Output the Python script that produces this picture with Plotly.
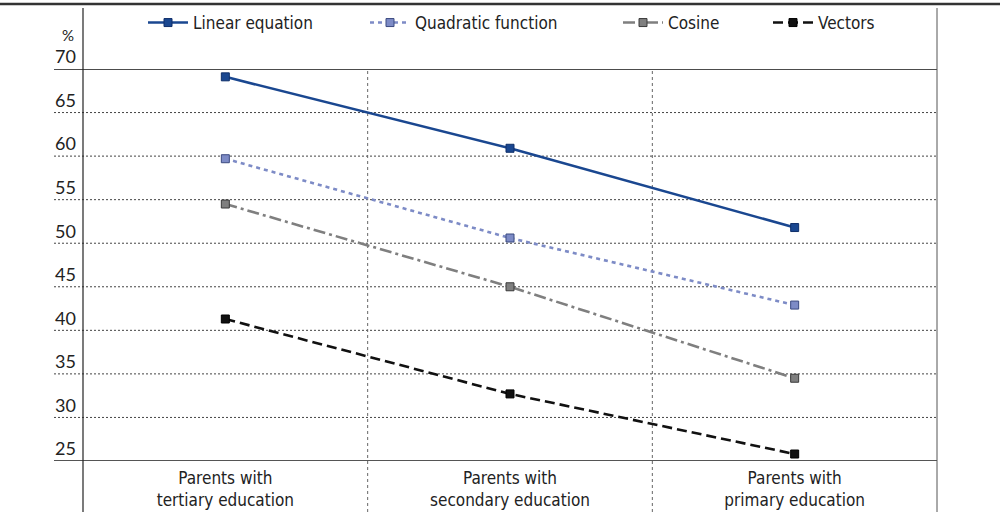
import plotly.graph_objects as go

categories = ["Parents with<br>tertiary education", "Parents with<br>secondary education", "Parents with<br>primary education"]
linear_eq = [69.1, 60.9, 51.8]
quadratic = [59.7, 50.6, 42.9]
cosine = [54.5, 45.0, 34.5]
vectors = [41.3, 32.7, 25.8]
y_ticks = [25, 30, 35, 40, 45, 50, 55, 60, 65, 70]

series = [
    ("Linear equation", linear_eq, "#1a4790", "#0f2f6a", "solid"),
    ("Quadratic function", quadratic, "#7d8bc6", "#3b4a80", "4px,4px"),
    ("Cosine", cosine, "#7f7f7f", "#3a3a3a", "12px,4px,3px,4px"),
    ("Vectors", vectors, "#111111", "#000000", "10px,5px"),
]
legend_ids = ["legend", "legend2", "legend3", "legend4"]
legend_text_px = [193, 415, 668, 818]

x_idx = list(range(len(categories)))
fig = go.Figure()
for (name, vals, col, edge, dash), lid in zip(series, legend_ids):
    fig.add_trace(go.Scatter(
        x=x_idx, y=vals, name=name, mode="lines+markers", legend=lid,
        line=dict(color=col, width=2.6, dash=dash),
        marker=dict(symbol="square", size=8, color=col, line=dict(color=edge, width=1)),
    ))

TXT = "#222222"
TFONT = "DejaVu Sans Condensed, Roboto, sans-serif"
PW, PH, L, T = 854, 392, 83, 69
shapes = []
x_left = -29 / PW
for v in y_ticks:
    if v == 70:
        shapes.append(dict(type="line", xref="paper", yref="y", x0=x_left, x1=1, y0=v, y1=v,
                           line=dict(color="#111111", width=1.5), layer="below"))
    elif v == 25:
        shapes.append(dict(type="line", xref="paper", yref="y", x0=x_left, x1=1, y0=v, y1=v,
                           line=dict(color="#555555", width=2), layer="above"))
    else:
        shapes.append(dict(type="line", xref="paper", yref="y", x0=x_left, x1=1, y0=v, y1=v,
                           line=dict(color="#444444", width=1, dash="2px,2px"), layer="below"))
for xs in [0.5, 1.5]:
    shapes.append(dict(type="line", xref="x", yref="paper", x0=xs, x1=xs, y0=-51 / PH, y1=1,
                       line=dict(color="#666666", width=1, dash="3px,3px"), layer="below"))
shapes.append(dict(type="line", xref="paper", yref="paper", x0=0, x1=0, y0=-51 / PH, y1=1 + 61 / PH,
                   line=dict(color="#222222", width=1.2)))
shapes.append(dict(type="line", xref="paper", yref="paper", x0=1, x1=1, y0=-51 / PH, y1=1 + 61 / PH,
                   line=dict(color="#555555", width=1)))
shapes.append(dict(type="line", xref="paper", yref="paper", x0=-L / PW, x1=1 + 63 / PW,
                   y0=1 + 65 / PH, y1=1 + 65 / PH, line=dict(color="#333333", width=2.5)))

layout_legends = {}
for lid, tx in zip(legend_ids, legend_text_px):
    layout_legends[lid] = dict(
        orientation="h", x=(tx - 50 - L) / PW, xanchor="left", y=1 + 46 / PH, yanchor="middle",
        font=dict(family=TFONT, size=17, color=TXT), bgcolor="rgba(0,0,0,0)", itemwidth=40)

fig.update_layout(
    width=1000, height=512,
    margin=dict(l=L, r=63, t=T, b=51, autoexpand=False),
    paper_bgcolor="white", plot_bgcolor="white",
    showlegend=True,
    xaxis=dict(range=[-0.5, 2.5], tickmode="array", tickvals=x_idx, ticktext=categories,
               showgrid=False, zeroline=False, showline=False, ticks="", automargin=False,
               ticklabelstandoff=5,
               tickfont=dict(family=TFONT, size=17, color=TXT)),
    yaxis=dict(range=[25, 70], tickmode="array", tickvals=y_ticks, ticktext=[str(v) for v in y_ticks],
               showgrid=False, zeroline=False, showline=False, ticks="", automargin=False,
               ticklabelshift=-12, ticklabelstandoff=6,
               tickfont=dict(family="Lato", size=18, color=TXT)),
    shapes=shapes,
    annotations=[dict(text="%", xref="paper", yref="paper", x=(68 - L) / PW, y=1 + 34 / PH,
                      showarrow=False, xanchor="center", yanchor="middle",
                      font=dict(family="Lato", size=15, color=TXT))],
    **layout_legends,
)

fig.write_html("out.html", config={"displayModeBar": False},
               post_script="document.body.style.margin='0';")
